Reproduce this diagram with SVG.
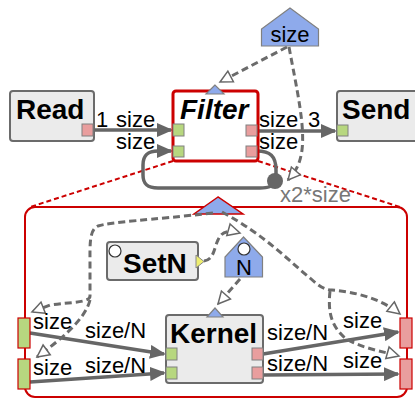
<svg xmlns="http://www.w3.org/2000/svg" width="415" height="399" viewBox="0 0 415 399">
<style>
text{font-family:"Liberation Sans",Arial,sans-serif;fill:#000}
.t{font-size:22px}
.b{font-size:28px;font-weight:bold}
.box{fill:#ebebeb;stroke:#6b6b6b;stroke-width:2}
.in{fill:#b7d77f;stroke:#808080;stroke-width:1}
.out{fill:#e99e9e;stroke:#808080;stroke-width:1}
.iin{fill:#b7d77f;stroke:#cc0000;stroke-width:1.2}
.iout{fill:#e99e9e;stroke:#cc0000;stroke-width:1.2}
.par{fill:#8eaaeb;stroke:#808080;stroke-width:1.2}
.c{fill:none;stroke:#666;stroke-width:3.5;marker-end:url(#ar)}
.d{fill:none;stroke:#6b6b6b;stroke-width:3;stroke-dasharray:7,4;marker-end:url(#ho)}
.rd{fill:none;stroke:#cc0000;stroke-width:2;stroke-dasharray:5,3}
</style>
<defs>
<marker id="ar" viewBox="0 0 16 14" refX="14" refY="7" markerWidth="16" markerHeight="14" markerUnits="userSpaceOnUse" orient="auto">
<path d="M0,0 L16,7 L0,14 z" fill="#666"/>
</marker>
<marker id="ho" viewBox="-1 -1 16 16" refX="13" refY="7" markerWidth="16" markerHeight="16" markerUnits="userSpaceOnUse" orient="auto">
<path d="M1,1 L13,7 L1,13 z" fill="#fff" stroke="#666" stroke-width="1.5" stroke-dasharray="none"/>
</marker>
</defs>
<rect width="415" height="399" fill="#fff"/>

<g id="subgraph">
<path class="rd" d="M173,161 L30,207"/>
<path class="rd" d="M258,161 L400,207"/>
<rect x="25" y="207" width="382" height="190" rx="10" fill="#fff" stroke="#cc0000" stroke-width="2"/>
<polygon points="218,197 194,214 243,214" fill="#8eaaeb" stroke="#cc0000" stroke-width="1.5"/>
</g>

<g id="connectors">
<path class="c" d="M93,130 L171,130"/>
<path class="c" d="M257,131 L335,131"/>
<path fill="none" stroke="#666" stroke-width="3.5" d="M257,151 C270,151 276,156 276,170 L276,181"/>
<path class="c" d="M275,181 C272,187 268,188 260,188 L158,188 C147,188 143,184 143,175 L143,165 C143,155 148,151 158,151 L171,151"/>
<path class="d" d="M287,47 L220,82"/>
<path class="d" d="M289,47 C297,90 305,125 302,150 C300,165 295,172 288,180"/>
<path class="c" d="M30,333 L164,354"/>
<path class="c" d="M30,382 L164,373"/>
<path class="c" d="M263,354 L398,332"/>
<path class="c" d="M263,375 L398,374"/>
<path class="d" d="M213,213 C150,220 110,222 98,226 C89,230 90,245 90,265 L90,296 C90,303 70,302 50,305 L32,312"/>
<path class="d" d="M90,300 C85,320 60,340 37,357"/>
<path class="d" d="M222,212 C265,235 290,262 310,278 C320,287 325,290 332,290 C355,292 380,298 400,314"/>
<path class="d" d="M330,291 C328,310 330,325 345,338 C360,348 385,352 399,356"/>
<path class="d" d="M204,261 C214,260 214,248 218,240 C221,233 226,229 240,233"/>
<path class="d" d="M240,279 L218,304"/>
<circle cx="275" cy="181" r="8" fill="#666"/>
</g>

<g id="read">
<rect class="box" x="10" y="91" width="84" height="50" rx="3"/>
<text class="b" x="16" y="119">Read</text>
<rect class="out" x="82" y="124" width="11" height="12"/>
</g>

<g id="send">
<rect class="box" x="337" y="91" width="90" height="50" rx="3"/>
<text class="b" x="342" y="119">Send</text>
<rect class="in" x="337" y="125" width="11" height="11"/>
</g>

<g id="filter">
<rect x="173" y="91" width="85" height="70" rx="3" fill="#fff" stroke="#cc0000" stroke-width="3"/>
<text class="b" x="180" y="119" font-style="italic">Filter</text>
<rect class="in" x="173" y="124" width="11" height="12"/>
<rect class="in" x="173" y="146" width="11" height="11"/>
<rect class="out" x="246" y="125" width="11" height="11"/>
<rect class="out" x="246" y="146" width="11" height="11"/>
<polygon class="par" points="215,85 206,94 224,94"/>
</g>

<g id="param-size">
<polygon class="par" points="290,8 261.5,29 261.5,46 318.5,46 318.5,29"/>
<text class="t" x="290" y="42" text-anchor="middle">size</text>
</g>

<g id="setn">
<rect class="box" x="107" y="242" width="91" height="38" rx="3"/>
<circle cx="115" cy="251" r="6" fill="#fff" stroke="#333" stroke-width="1.2"/>
<text class="b" x="123" y="273">SetN</text>
<polygon points="196,255 196,268 204,261.5" fill="#eeee70" stroke="#888" stroke-width="1"/>
</g>

<g id="param-n">
<polygon class="par" points="243.5,237 225,257 225,277 262.5,277 262.5,257"/>
<circle cx="244" cy="249" r="6" fill="#fff" stroke="#333" stroke-width="1.2"/>
<text class="t" x="244" y="275" text-anchor="middle">N</text>
</g>

<g id="kernel">
<rect class="box" x="166" y="315" width="97" height="68" rx="3"/>
<text class="b" x="170" y="343">Kernel</text>
<rect class="in" x="166" y="348" width="11" height="12"/>
<rect class="in" x="166" y="367" width="11" height="12"/>
<rect class="out" x="252" y="348" width="11" height="12"/>
<rect class="out" x="252" y="367" width="11" height="12"/>
<polygon class="par" points="215,308 207,317 223,317"/>
</g>

<g id="interface-in">
<rect class="iin" x="18" y="318" width="12" height="30"/>
<rect class="iin" x="18" y="359" width="12" height="30"/>
</g>
<g id="interface-out">
<rect class="iout" x="400" y="318" width="12" height="30"/>
<rect class="iout" x="400" y="359" width="12" height="30"/>
</g>

<g id="labels">
<text class="t" x="96" y="127">1</text>
<text class="t" x="116" y="127">size</text>
<text class="t" x="116" y="149">size</text>
<text class="t" x="259" y="127">size</text>
<text class="t" x="308" y="127">3</text>
<text class="t" x="259" y="149">size</text>
<text class="t" x="280" y="202" style="fill:#777">x2*size</text>
<text class="t" x="33" y="329">size</text>
<text class="t" x="33" y="375">size</text>
<text class="t" x="85" y="338">size/N</text>
<text class="t" x="85" y="373">size/N</text>
<text class="t" x="267" y="340">size/N</text>
<text class="t" x="267" y="371">size/N</text>
<text class="t" x="343" y="328">size</text>
<text class="t" x="343" y="368">size</text>
</g>
</svg>
